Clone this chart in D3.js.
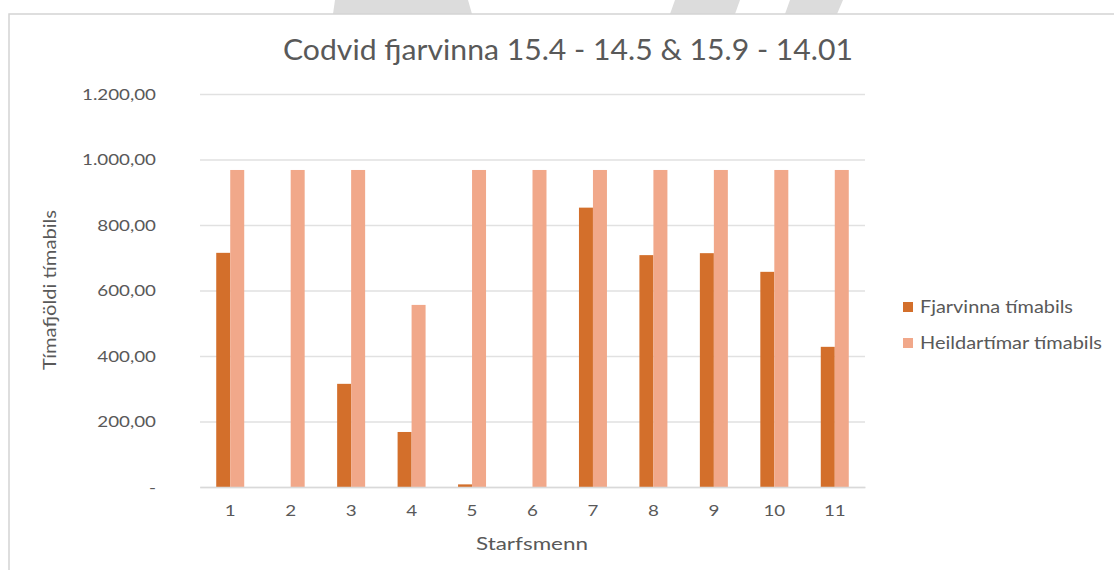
<!DOCTYPE html>
<html>
<head>
<meta charset="utf-8">
<script src="https://cdn.jsdelivr.net/npm/d3@7"></script>
<style>
  html, body { margin: 0; padding: 0; background: #fff; }
  svg { display: block; }
  text { font-family: Lato, "Open Sans", sans-serif; fill: #595959; }
</style>
</head>
<body>
<svg id="chart" width="1114" height="570"></svg>
<script>
// ---- data ----
const categories = ["1", "2", "3", "4", "5", "6", "7", "8", "9", "10", "11"];
const seriesNames = ["Fjarvinna tímabils", "Heildartímar tímabils"];
const fjarvinna = [715, 0, 315, 168, 8, 0, 853, 708, 714, 657, 428];
const heildartimar = [968, 968, 968, 556, 968, 968, 968, 968, 968, 968, 968];
const yTicks = [0, 200, 400, 600, 800, 1000, 1200];
const title = "Codvid fjarvinna 15.4 - 14.5 & 15.9 - 14.01";
const xTitle = "Starfsmenn";
const yTitle = "Tímafjöldi tímabils";

const colors = ["#d36f2b", "#f1a88a"];

const svg = d3.select("#chart");
const W = 1114, H = 570;
svg.append("rect").attr("width", W).attr("height", H).attr("fill", "#fff");

// decorative grey shapes at the top edge (part of the screenshot)
const deco = [
  [[335,0],[468,0],[472,14],[333,14]],
  [[675,0],[740,0],[735,14],[670,14]],
  [[790,0],[843,0],[837,14],[785,14]]
];
svg.append("g").selectAll("path").data(deco).join("path")
  .attr("d", d => d3.line()(d) + "Z")
  .attr("fill", "#dcdcdc");

// chart border
svg.append("path").attr("d", "M9,570 V14 H1114")
  .attr("fill", "none").attr("stroke", "#d4d4d4").attr("stroke-width", 1.5);

const plot = { left: 200, right: 865, top: 94, bottom: 487 };

const x0 = d3.scaleBand().domain(categories)
  .range([plot.left, plot.right]).paddingInner(0.537).paddingOuter(0.2685);
const x1 = d3.scaleBand().domain(seriesNames).range([0, x0.bandwidth()]);
const y = d3.scaleLinear().domain([0, 1200]).range([plot.bottom, plot.top]);

const locale = d3.formatLocale({ decimal: ",", thousands: ".", grouping: [3], currency: ["", ""] });
const fmt = locale.format(",.2f");

function fit(sel, width) {
  sel.attr("textLength", width).attr("lengthAdjust", "spacingAndGlyphs");
}

// gridlines
const yAxis = d3.axisLeft(y).tickValues(yTicks).tickSize(-(plot.right - plot.left))
  .tickPadding(44).tickFormat(d => d === 0 ? "-" : fmt(d));
const gy = svg.append("g").attr("transform", `translate(${plot.left},0)`).call(yAxis);
gy.select(".domain").remove();
gy.selectAll(".tick line").attr("stroke", "#e1e1e1").attr("stroke-width", 1.3);
gy.selectAll(".tick text").attr("font-size", 16).attr("fill", "#5f5f5f")
  .attr("font-family", "Lato, 'Open Sans', sans-serif");

// bars
const data = categories.map((c, i) => ({ c, vals: [fjarvinna[i], heildartimar[i]] }));
const groups = svg.append("g").selectAll("g").data(data).join("g")
  .attr("transform", d => `translate(${x0(d.c)},0)`);
groups.selectAll("rect")
  .data(d => d.vals.map((v, k) => ({ k, v })))
  .join("rect")
  .attr("x", d => x1(seriesNames[d.k]))
  .attr("width", x1.bandwidth())
  .attr("y", d => y(d.v))
  .attr("height", d => y(0) - y(d.v))
  .attr("fill", d => colors[d.k]);

// x axis
const xAxis = d3.axisBottom(x0).tickSize(0).tickPadding(18);
const gx = svg.append("g").attr("transform", `translate(0,${plot.bottom})`).call(xAxis);
gx.select(".domain").attr("stroke", "#d9d9d9").attr("stroke-width", 1.3);
gx.selectAll(".tick text").attr("font-size", 16).attr("fill", "#5f5f5f")
  .attr("font-family", "Lato, 'Open Sans', sans-serif");

// stretch tick labels to match the reference proportions
const longest = gy.selectAll(".tick text").filter(d => d === 1200).node();
const factor = 74 / longest.getComputedTextLength();
gy.selectAll(".tick text").each(function () {
  const w = this.getComputedTextLength();
  d3.select(this).call(fit, w * factor);
});
gx.selectAll(".tick text").each(function () {
  const w = this.getComputedTextLength();
  d3.select(this).call(fit, w * factor);
});

// title
svg.append("text").attr("x", 568).attr("y", 60).attr("text-anchor", "middle")
  .attr("font-size", 28).attr("font-weight", 400).text(title).call(fit, 570);

// axis titles
svg.append("text").attr("x", 532).attr("y", 550).attr("text-anchor", "middle")
  .attr("font-size", 17).text(xTitle).call(fit, 112);
svg.append("text").attr("transform", "translate(56,290) rotate(-90)")
  .attr("text-anchor", "middle").attr("font-size", 17).text(yTitle).call(fit, 160);

// legend
const legendY = [307, 343];
const legendW = [153, 182];
const lg = svg.append("g").selectAll("g").data(seriesNames).join("g")
  .attr("transform", (d, i) => `translate(903,${legendY[i]})`);
lg.append("rect").attr("x", 0).attr("y", -5).attr("width", 10).attr("height", 10)
  .attr("fill", (d, i) => colors[i]);
lg.append("text").attr("x", 17).attr("y", 6).attr("font-size", 17)
  .text(d => d).each(function (d, i) { d3.select(this).call(fit, legendW[i]); });
</script>
</body>
</html>
